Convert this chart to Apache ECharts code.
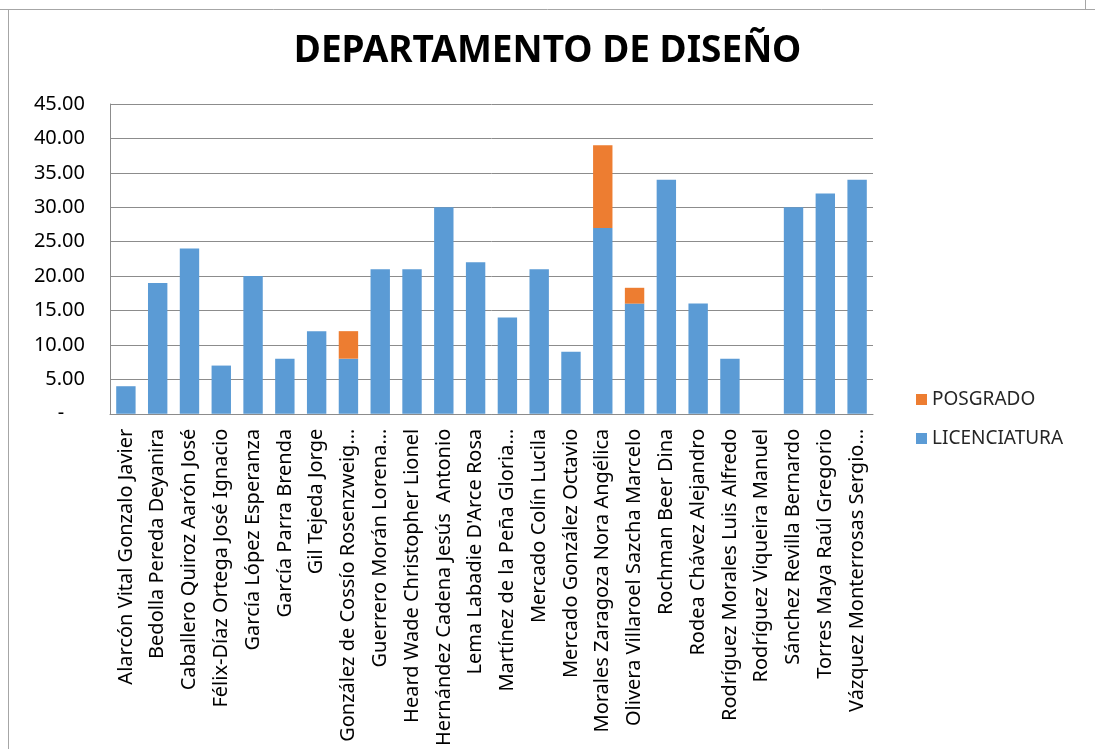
<!DOCTYPE html>
<html>
<head>
	<meta charset="UTF-8">
	<title>Departamento de Diseño</title>
	<style>
		html, body { margin: 0; padding: 0; background: #fff; }
		#container { width: 1095px; height: 749px; }
	</style>
</head>
<body>
	<div id="container"></div>
	<script src="https://cdn.jsdelivr.net/npm/echarts@6/dist/echarts.min.js"></script>
	<script>
		var profesores = [
			'Alarcón Vital Gonzalo Javier', 'Bedolla Pereda Deyanira', 'Caballero Quiroz Aarón José',
			'Félix-Díaz Ortega José Ignacio', 'García López Esperanza', 'García Parra Brenda',
			'Gil Tejeda Jorge', 'González de Cossío Rosenzweig…', 'Guerrero Morán Lorena…',
			'Heard Wade Christopher Lionel', 'Hernández Cadena Jesús  Antonio', 'Lema Labadie D\'Arce Rosa',
			'Martínez de la Peña Gloria…', 'Mercado Colín Lucila', 'Mercado González Octavio',
			'Morales Zaragoza Nora Angélica', 'Olivera Villaroel Sazcha Marcelo', 'Rochman Beer Dina',
			'Rodea Chávez Alejandro', 'Rodríguez Morales Luis Alfredo', 'Rodríguez Viqueira Manuel',
			'Sánchez Revilla Bernardo', 'Torres Maya Raúl Gregorio', 'Vázquez Monterrosas Sergio…'
		];
		var licenciatura = [4, 19, 24, 7, 20, 8, 12, 8, 21, 21, 30, 22, 14, 21, 9, 27, 16, 34, 16, 8, 0, 30, 32, 34];
		var posgrado = [0, 0, 0, 0, 0, 0, 0, 4, 0, 0, 0, 0, 0, 0, 0, 12, 2.3, 0, 0, 0, 0, 0, 0, 0];

		var fuente = '"Noto Sans", "Open Sans", sans-serif';
		var myChart = echarts.init(document.getElementById('container'));

		var option = {
			backgroundColor: '#fff',
			animation: false,
			title: {
				text: 'DEPARTAMENTO DE DISEÑO',
				left: 'center',
				top: 28,
				textStyle: { fontFamily: fuente, fontSize: 37, fontWeight: 'bold', color: '#000' }
			},
			legend: {
				orient: 'vertical',
				left: 911,
				top: 385,
				itemWidth: 11,
				itemHeight: 11,
				itemGap: 20,
				icon: 'rect',
				data: ['POSGRADO', 'LICENCIATURA'],
				textStyle: { fontFamily: fuente, fontSize: 19, color: '#262626' }
			},
			grid: { left: 110, right: 222, top: 104, bottom: 333, containLabel: false },
			xAxis: {
				type: 'category',
				data: profesores,
				axisLine: { lineStyle: { color: '#8c8c8c' } },
				axisTick: { show: false },
				axisLabel: {
					rotate: 90,
					interval: 0,
					margin: 15,
					fontFamily: fuente,
					fontSize: 20,
					color: '#000'
				}
			},
			yAxis: {
				type: 'value',
				min: 0,
				max: 45,
				interval: 5,
				axisLine: { show: true, lineStyle: { color: '#8c8c8c' } },
				axisLabel: {
					fontFamily: fuente,
					fontSize: 20,
					color: '#000',
					margin: 25,
					formatter: function (v) { return v === 0 ? '-    ' : v.toFixed(2); }
				},
				splitLine: { lineStyle: { color: '#8c8c8c', width: 1 } }
			},
			series: [
				{
					name: 'LICENCIATURA',
					type: 'bar',
					stack: 'total',
					barCategoryGap: '39%',
					itemStyle: { color: '#5B9BD5' },
					data: licenciatura
				},
				{
					name: 'POSGRADO',
					type: 'bar',
					stack: 'total',
					itemStyle: { color: '#ED7D31' },
					data: posgrado
				}
			],
			graphic: [
				{ type: 'line', shape: { x1: 0, y1: 9.5, x2: 1095, y2: 9.5 }, style: { stroke: '#a6a6a6', lineWidth: 1 } },
				{ type: 'line', shape: { x1: 8.5, y1: 9, x2: 8.5, y2: 749 }, style: { stroke: '#a6a6a6', lineWidth: 1 } },
				{ type: 'line', shape: { x1: 1085.5, y1: 0, x2: 1085.5, y2: 9 }, style: { stroke: '#a6a6a6', lineWidth: 1 } }
			]
		};

		myChart.setOption(option, true);
	</script>
</body>
</html>
